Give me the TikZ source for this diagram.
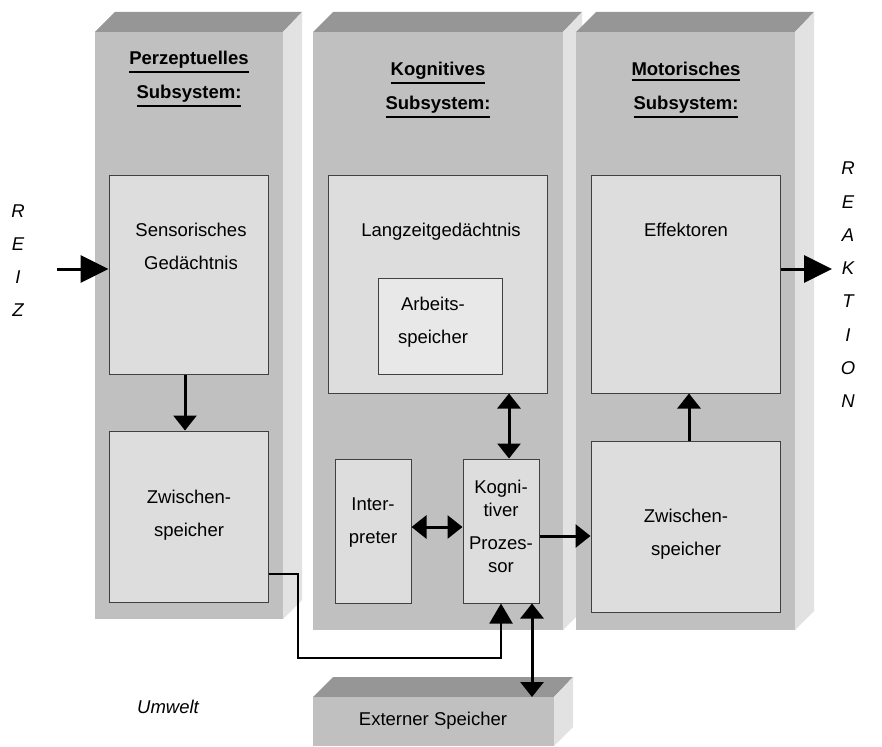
\documentclass[tikz,border=0pt]{standalone}
\usepackage{fontspec}
\setmainfont{Liberation Sans}
\usetikzlibrary{arrows.meta}
\definecolor{frontc}{gray}{0.753}
\definecolor{topc}{gray}{0.59}
\definecolor{sidec}{gray}{0.885}
\definecolor{innerc}{gray}{0.867}
\definecolor{innerlc}{gray}{0.91}
\definecolor{borderc}{gray}{0.25}
\newcommand\hdul[1]{\leavevmode\vtop{\hbox{#1}\kern2.5pt\hrule height 2pt}}
\tikzset{
  front/.style={fill=frontc},
  topface/.style={fill=topc},
  sideface/.style={fill=sidec},
  box/.style={draw=borderc, line width=1pt, fill=innerc, rectangle, inner sep=0pt},
  txt/.style={font=\fontsize{18.5}{33}\selectfont, align=center, inner sep=0pt, anchor=base},
  hdr/.style={font=\fontsize{18.5}{34}\selectfont\bfseries, align=center, inner sep=0pt, anchor=base},
  ital/.style={font=\fontsize{18.5}{33}\selectfont\itshape, inner sep=0pt, anchor=base},
  bigarrow/.style={line width=3pt, -{Triangle[length=28pt, width=27pt]}},
  arr/.style={line width=3pt, -{Triangle[length=15pt, width=23pt]}},
  darr/.style={line width=3pt, {Triangle[length=15pt, width=23pt]}-{Triangle[length=15pt, width=23pt]}},
  thinarr/.style={line width=2pt, -{Triangle[length=20pt, width=23pt]}},
}
\begin{document}
\begin{tikzpicture}[x=1pt, y=-1pt]
\useasboundingbox (0,0) rectangle (882,746);
% column 1
\fill[topface] (95,32) -- (115,12) -- (302,12) -- (283,32) -- cycle;
\fill[sideface] (283,32) -- (302,12) -- (302,600) -- (283,619) -- cycle;
\fill[front] (95,32) rectangle (283,619);
% column 2
\fill[topface] (313,32) -- (333,12) -- (582,12) -- (563,32) -- cycle;
\fill[sideface] (563,32) -- (582,12) -- (582,611) -- (563,630) -- cycle;
\fill[front] (313,32) rectangle (563,630);
% column 3
\fill[topface] (576,32) -- (596,12) -- (814,12) -- (795,32) -- cycle;
\fill[sideface] (795,32) -- (814,12) -- (814,611) -- (795,630) -- cycle;
\fill[front] (576,32) rectangle (795,630);
% external memory block
\fill[topface] (313,697) -- (333,677) -- (573,677) -- (554,697) -- cycle;
\fill[sideface] (554,697) -- (573,677) -- (573,727) -- (554,746) -- cycle;
\fill[front] (313,697) rectangle (554,746);

% headers (anchor = baseline of last line)
\node[hdr] (h1) at (189,99) {\hdul{Perzeptuelles}\\\hdul{Subsystem:}};
\node[hdr] (h2) at (438,110) {\hdul{Kognitives}\\\hdul{Subsystem:}};
\node[hdr] (h3) at (686,110) {\hdul{Motorisches}\\\hdul{Subsystem:}};

% inner boxes
\node[box, minimum width=159pt, minimum height=199pt] (sens) at (188.5,274.5) {};
\node[box, minimum width=159pt, minimum height=171pt] (zw1) at (188.5,516.5) {};
\node[box, minimum width=219pt, minimum height=218pt] (lz) at (437.5,284) {};
\node[box, fill=innerlc, minimum width=124pt, minimum height=96pt] (ab) at (440,326) {};
\node[box, minimum width=76pt, minimum height=144pt] (int) at (373,531) {};
\node[box, minimum width=76pt, minimum height=144pt] (kp) at (501,531) {};
\node[box, minimum width=189pt, minimum height=218pt] (eff) at (685.5,284) {};
\node[box, minimum width=189pt, minimum height=171pt] (zw2) at (685.5,526.5) {};

% texts (anchor = baseline of last line)
\node[txt] (tsens) at (191,269) {Sensorisches\\Gedächtnis};
\node[txt] (tzw1) at (189,536) {Zwischen-\\speicher};
\node[txt] (tlz) at (441,236) {Langzeitgedächtnis};
\node[txt] (tab) at (433,343) {Arbeits-\\speicher};
\node[txt] (tint) at (373,543) {Inter-\\preter};
\node[txt, font=\fontsize{18.5}{23}\selectfont] (tkp1) at (501,516) {Kogni-\\tiver};
\node[txt, font=\fontsize{18.5}{23}\selectfont] (tkp2) at (501,572) {Prozes-\\sor};
\node[txt] (teff) at (686,236) {Effektoren};
\node[txt] (tzw2) at (686,555) {Zwischen-\\speicher};
\node[txt] (text) at (433,725) {Externer Speicher};
\node[ital] (umw) at (168,713) {Umwelt};

% REIZ / REAKTION letters
\foreach \l [count=\i] in {R,E,I,Z}
  \node[ital] (reiz\i) at (18,217+33*\i-33) {\l};
\foreach \l [count=\i] in {R,E,A,K,T,I,O,N}
  \node[ital] (reak\i) at (848,175+33.2*\i-33.2) {\l};

% helper coordinates
\coordinate (rin) at (57,269);
\coordinate (rout) at (832,269);
\coordinate (xa) at (185,0);
\coordinate (xb) at (509,0);
\coordinate (ya) at (0,527);
\coordinate (yb) at (0,536);
\coordinate (xc) at (689,0);
\coordinate (xd) at (532,0);
\coordinate (c1) at (298,574);
\coordinate (c2) at (298,658);
\coordinate (c3) at (501,658);
\coordinate (ext) at (532,697);

% arrows
\draw[bigarrow] (rin) -- (sens.west |- rin);
\draw[bigarrow] (eff.east |- rout) -- (rout);
\draw[arr] (sens.south -| xa) -- (zw1.north -| xa);
\draw[darr] (lz.south -| xb) -- (kp.north -| xb);
\draw[darr] (int.east |- ya) -- (kp.west |- ya);
\draw[arr] (kp.east |- yb) -- (zw2.west |- yb);
\draw[arr] (zw2.north -| xc) -- (eff.south -| xc);
\draw[thinarr] (zw1.east |- c1) -- (c1) -- (c2) -- (c3) -- (kp.south);
\draw[darr] (kp.south -| xd) -- (ext);
\end{tikzpicture}
\end{document}
